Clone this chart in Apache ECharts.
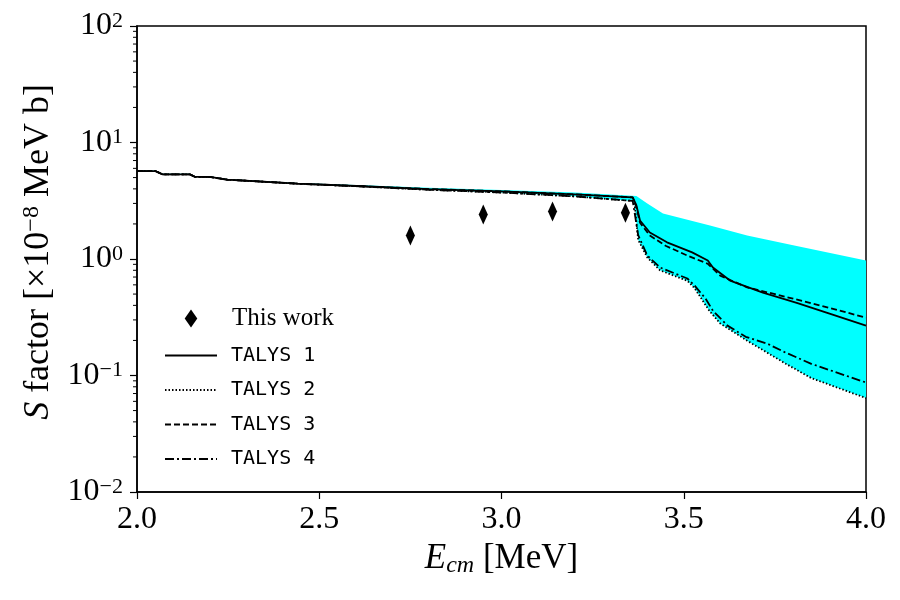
<!DOCTYPE html>
<html>
<head>
<meta charset="utf-8">
<script src="https://cdn.jsdelivr.net/npm/echarts@6/dist/echarts.min.js"></script>
<style>
  html, body { margin: 0; padding: 0; background: #fff; }
  #chart { width: 900px; height: 600px; }
</style>
</head>
<body>
<div id="chart"></div>
<script>
// datos (E en MeV, S en 1e-8 MeV b)

const expE = [2.75, 2.95, 3.14, 3.34];
const expS = [1.59, 2.41, 2.56, 2.50];

const lowE = [2.0, 2.05, 2.07, 2.145, 2.16, 2.2, 2.247, 2.44, 2.62, 2.8, 3.0, 3.2, 3.36];
const lowS1 = [5.69, 5.69, 5.33, 5.33, 5.06, 5.06, 4.80, 4.43, 4.21, 3.98, 3.81, 3.59, 3.38];
const lowS4 = [5.69, 5.69, 5.33, 5.33, 5.06, 5.06, 4.80, 4.43, 4.19, 3.93, 3.72, 3.45, 3.15];

const talys1E = [3.37, 3.38, 3.407, 3.454, 3.523, 3.566, 3.58, 3.627, 3.717, 3.81, 3.90, 4.0];
const talys1S = [2.9, 2.14, 1.69, 1.39, 1.14, 0.97, 0.845, 0.653, 0.515, 0.42, 0.34, 0.268];

const talys2E = [3.365, 3.375, 3.40, 3.435, 3.51, 3.53, 3.57, 3.60, 3.674, 3.78, 3.85, 4.0];
const talys2S = [3.0, 1.46, 1.03, 0.80, 0.65, 0.56, 0.36, 0.28, 0.199, 0.126, 0.095, 0.064];

const talys3E = [3.37, 3.38, 3.407, 3.45, 3.51, 3.566, 3.60, 3.674, 3.80, 3.90, 4.0];
const talys3S = [2.8, 2.05, 1.59, 1.30, 1.07, 0.91, 0.72, 0.57, 0.457, 0.38, 0.314];

const talys4E = [3.365, 3.375, 3.40, 3.435, 3.51, 3.53, 3.56, 3.58, 3.62, 3.67, 3.73, 3.78, 3.85, 4.0];
const talys4S = [3.1, 1.6, 1.07, 0.845, 0.68, 0.59, 0.457, 0.36, 0.268, 0.215, 0.187, 0.157, 0.126, 0.087];

const bandTopE = [2.0, 2.05, 2.07, 2.145, 2.16, 2.2, 2.247, 2.44, 2.62, 2.8, 3.0, 3.2, 3.37, 3.40, 3.443, 3.572, 3.674, 3.80, 4.0];
const bandTopS = [5.75, 5.75, 5.4, 5.4, 5.12, 5.12, 4.86, 4.5, 4.3, 4.08, 3.92, 3.72, 3.48, 3.0, 2.46, 1.94, 1.59, 1.31, 0.97];

const yTicks = [0.01, 0.1, 1, 10, 100];
const yExp = ['\u22122', '\u22121', '0', '1', '2'];

const serif = 'Liberation Serif';
const mono = 'DejaVu Sans Mono';
const diamondPath = 'path://M7,0 L14,10 L7,20 L0,10 Z';

const joinXY = (xs, ys) => xs.map((x, i) => [x, ys[i]]);

const talys1 = joinXY(lowE, lowS1).concat(joinXY(talys1E, talys1S));
const talys2 = joinXY(lowE, lowS4).concat(joinXY(talys2E, talys2S));
const talys3 = joinXY(lowE, lowS1).concat(joinXY(talys3E, talys3S));
const talys4 = joinXY(lowE, lowS4).concat(joinXY(talys4E, talys4S));
const bandTop = joinXY(bandTopE, bandTopS);
const bandLow = talys2;

// ticks menores del eje log
const minorVals = [];
[0.01, 0.1, 1, 10].forEach(d => {
  for (let k = 2; k <= 9; k++) minorVals.push(+(d * k).toPrecision(3));
});

const lineSerie = (name, data, type) => ({
  name: name,
  type: 'line',
  data: data,
  symbol: 'none',
  z: 5,
  lineStyle: { color: '#000', width: 1.8, type: type },
  itemStyle: { color: '#000' }
});

const legendTalys = name => ({
  name: name,
  itemStyle: { opacity: 0 },
  textStyle: { fontFamily: mono, fontSize: 20, lineHeight: 18, padding: [0, 0, 0, 9] }
});

const getOption = () => {
  return {
    animation: false,
    backgroundColor: '#fff',
    grid: {
      left: 137, right: 34, top: 26, bottom: 108,
      show: true, borderColor: '#000', borderWidth: 1.5
    },
    legend: {
      orient: 'vertical',
      left: 159,
      top: 301,
      itemWidth: 52,
      itemHeight: 18,
      itemGap: 14.5,
      textStyle: { color: '#000' },
      data: [
        {
          name: 'This work',
          icon: diamondPath,
          symbolKeepAspect: true,
          textStyle: { fontFamily: serif, fontSize: 25, lineHeight: 18, padding: [0, 0, 0, 10] }
        },
        legendTalys('TALYS 1'),
        legendTalys('TALYS 2'),
        legendTalys('TALYS 3'),
        legendTalys('TALYS 4')
      ]
    },
    xAxis: {
      type: 'value',
      min: 2.0,
      max: 4.0,
      interval: 0.5,
      name: '{i|E}{sub|cm} [MeV]',
      nameLocation: 'middle',
      nameGap: 46,
      nameTextStyle: {
        color: '#000',
        fontFamily: serif,
        fontSize: 35,
        rich: {
          i: { fontFamily: serif, fontStyle: 'italic', fontSize: 35 },
          sub: { fontFamily: serif, fontStyle: 'italic', fontSize: 24, verticalAlign: 'bottom', padding: [14, 0, 0, 0] }
        }
      },
      splitLine: { show: false },
      axisLine: { lineStyle: { color: '#000', width: 1.5 } },
      axisTick: { length: 7, lineStyle: { color: '#000', width: 1.2 } },
      axisLabel: {
        color: '#000', fontFamily: serif, fontSize: 32, margin: 12,
        formatter: v => v.toFixed(1)
      }
    },
    yAxis: {
      type: 'log',
      min: 0.01,
      max: 100,
      logBase: 10,
      name: '{i|S} factor [\u00d710{sup|\u22128} MeV b]',
      nameLocation: 'middle',
      nameGap: 79,
      nameRotate: 90,
      nameTextStyle: {
        color: '#000',
        fontFamily: serif,
        fontSize: 36,
        padding: [0, 0, 0, 14],
        rich: {
          i: { fontFamily: serif, fontStyle: 'italic', fontSize: 36 },
          sup: { fontFamily: serif, fontSize: 24, verticalAlign: 'top', padding: [0, 0, 13, 0] }
        }
      },
      splitLine: { show: false },
      axisLine: { lineStyle: { color: '#000', width: 1.5 } },
      axisTick: { length: 7, lineStyle: { color: '#000', width: 1.2 } },
      axisLabel: {
        color: '#000', margin: 14,
        formatter: v => {
          const i = yTicks.findIndex(t => Math.abs(t - v) / t < 1e-6);
          return i < 0 ? '' : '{b|10}{s|' + yExp[i] + '}';
        },
        rich: {
          b: { fontFamily: serif, fontSize: 32, color: '#000', verticalAlign: 'bottom', lineHeight: 32 },
          s: { fontFamily: serif, fontSize: 22, color: '#000', verticalAlign: 'top', lineHeight: 18 }
        }
      }
    },
    series: [
      {
        name: 'band',
        type: 'custom',
        z: 1,
        silent: true,
        data: [0],
        renderItem: (params, api) => {
          const pts = bandTop.map(p => api.coord(p));
          const low = bandLow.slice().reverse().map(p => api.coord(p));
          return {
            type: 'polygon',
            shape: { points: pts.concat(low) },
            style: { fill: '#00ffff', stroke: null }
          };
        }
      },
      {
        name: 'minor',
        type: 'custom',
        z: 6,
        silent: true,
        clip: false,
        data: minorVals,
        renderItem: (params, api) => {
          const p = api.coord([2.0, api.value(0)]);
          return {
            type: 'line',
            shape: { x1: p[0] - 4, y1: p[1], x2: p[0], y2: p[1] },
            style: { stroke: '#000', lineWidth: 1 }
          };
        }
      },
      {
        name: 'This work',
        type: 'scatter',
        symbol: diamondPath,
        symbolSize: [13, 20],
        symbolKeepAspect: true,
        z: 8,
        itemStyle: { color: '#000', opacity: 1 },
        data: joinXY(expE, expS)
      },
      lineSerie('TALYS 1', talys1, 'solid'),
      lineSerie('TALYS 2', talys2, [1.5, 2]),
      lineSerie('TALYS 3', talys3, [6, 3]),
      lineSerie('TALYS 4', talys4, [9, 3, 2, 3])
    ]
  };
};

const iniciarChart = () => {
  const chart = echarts.init(document.getElementById('chart'));
  chart.setOption(getOption());
};

window.addEventListener('load', () => {
  iniciarChart();
});
</script>
</body>
</html>
